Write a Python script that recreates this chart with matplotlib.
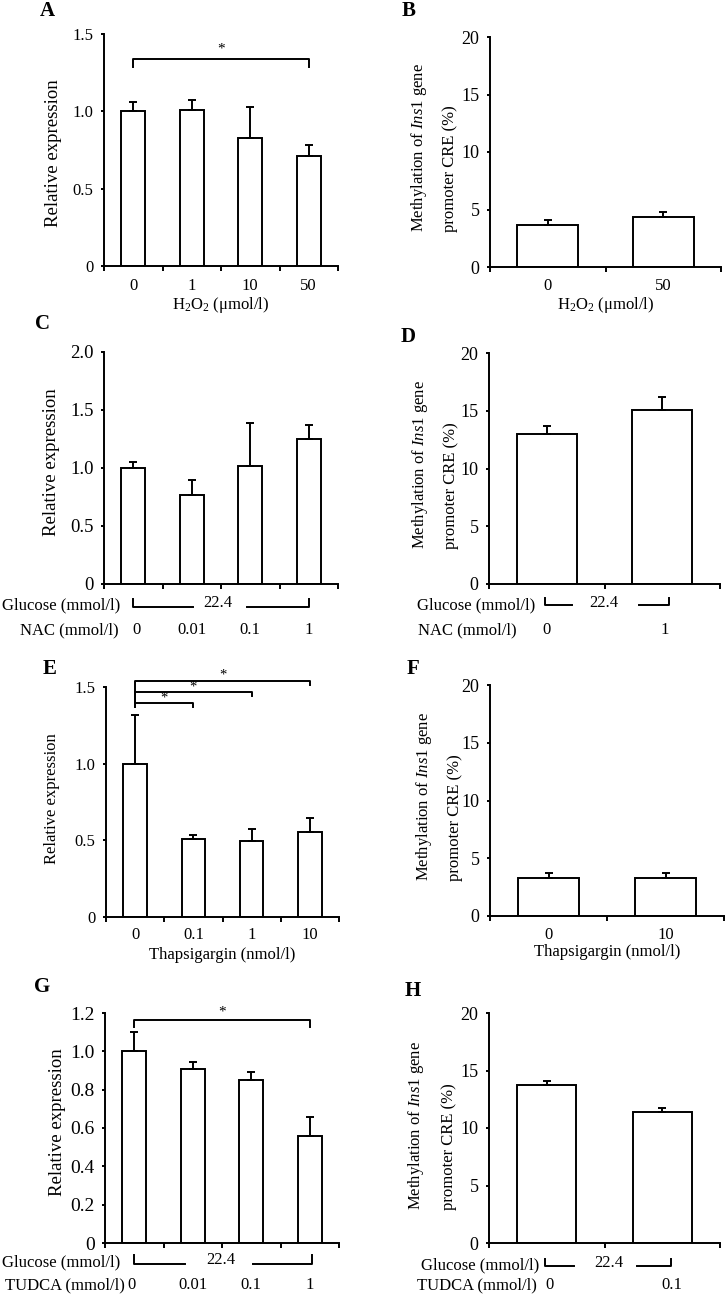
import matplotlib
matplotlib.use("Agg")
import matplotlib.pyplot as plt
from matplotlib import transforms

plt.rcParams['font.family'] = ['Liberation Serif', 'DejaVu Serif']
plt.rcParams['mathtext.fontset'] = 'custom'
plt.rcParams['mathtext.rm'] = 'Liberation Serif'
plt.rcParams['mathtext.it'] = 'Liberation Serif:italic'
plt.rcParams['mathtext.bf'] = 'Liberation Serif:bold'

W, H = 725, 1294

# ---------------- data ----------------
A_cats = ['0', '1', '10', '50']
A_vals = [1.0, 1.01, 0.83, 0.71]
A_err = [0.06, 0.065, 0.20, 0.07]

B_cats = ['0', '50']
B_vals = [3.65, 4.35]
B_err = [0.45, 0.43]

C_nac = ['0', '0.01', '0.1', '1']
C_vals = [1.0, 0.77, 1.02, 1.25]
C_err = [0.055, 0.13, 0.37, 0.125]

D_nac = ['0', '1']
D_vals = [13.0, 15.05]
D_err = [0.7, 1.15]

E_cats = ['0', '0.1', '1', '10']
E_vals = [1.0, 0.51, 0.495, 0.555]
E_err = [0.32, 0.027, 0.078, 0.09]

F_cats = ['0', '10']
F_vals = [3.3, 3.3]
F_err = [0.42, 0.42]

G_tudca = ['0', '0.01', '0.1', '1']
G_vals = [1.0, 0.91, 0.85, 0.56]
G_err = [0.10, 0.032, 0.04, 0.10]

H_tudca = ['0', '0.1']
H_vals = [13.7, 11.35]
H_err = [0.4, 0.42]

glucose_value = '22.4'

fig = plt.figure(figsize=(W / 100, H / 100), dpi=100)

LW = 1.4


def make_ax(L, R, T, B):
    ax = fig.add_axes([L / W, 1 - B / H, (R - L) / W, (B - T) / H])
    ax._px = (L, R, T, B)
    return ax


def fy(ax, ypx):
    L, R, T, B = ax._px
    return (B - ypx) / (B - T)


def fx(ax, xpx):
    L, R, T, B = ax._px
    return (xpx - L) / (R - L)


def style(ax, n, ymax, yticks, ylabels, ytick_fs):
    ax.set_xlim(-0.5, n - 0.5)
    ax.set_ylim(0, ymax)
    for s in ['top', 'right']:
        ax.spines[s].set_visible(False)
    for s in ['left', 'bottom']:
        ax.spines[s].set_linewidth(LW)
    ax.set_xticks([i - 0.5 for i in range(n + 1)])
    ax.set_xticklabels([])
    ax.tick_params(axis='x', direction='out', length=3.5, width=LW)
    ax.set_yticks(yticks)
    ax.set_yticklabels(ylabels, fontsize=ytick_fs)
    ax.tick_params(axis='y', direction='out', length=2.5, width=LW, pad=5)
    ax.patch.set_alpha(0)


def bars(ax, vals, errs, width):
    x = list(range(len(vals)))
    ax.bar(x, vals, width=width, color='white', edgecolor='black', linewidth=LW, zorder=2)
    ax.errorbar(x, vals, yerr=[[0] * len(vals), errs], fmt='none', ecolor='black',
                elinewidth=LW, capsize=3, capthick=LW, zorder=3)


def xcat_labels(ax, labels, ypx, fs=12, xs=None):
    tr = transforms.blended_transform_factory(ax.transData, ax.transAxes)
    if xs is None:
        xs = list(range(len(labels)))
    for x, lab in zip(xs, labels):
        ax.text(x, fy(ax, ypx), lab, transform=tr, ha='center', va='center', fontsize=fs, clip_on=False)


def xlabel(ax, text, ypx, fs=12):
    ax.text(0.5, fy(ax, ypx), text, transform=ax.transAxes, ha='center', va='center', fontsize=fs, clip_on=False)


def left_ylabel(ax, xpx, ypx, fs):
    ax.text(fx(ax, xpx), fy(ax, ypx), 'Relative expression', transform=ax.transAxes,
            rotation=90, ha='center', va='center', fontsize=fs, clip_on=False)


def right_ylabel(ax, x1, x2, ystart):
    ax.text(fx(ax, x1), fy(ax, ystart), r'Methylation of $\mathit{Ins1}$ gene', transform=ax.transAxes,
            rotation=90, rotation_mode='anchor', ha='left', va='center', fontsize=12, clip_on=False)
    ax.text(fx(ax, x2), fy(ax, ystart), 'promoter CRE (%)', transform=ax.transAxes,
            rotation=90, rotation_mode='anchor', ha='left', va='center', fontsize=12, clip_on=False)


def sig(ax, x0, x1, y, drop, star_y, left_drop=None, fs=11):
    ld = drop if left_drop is None else left_drop
    ax.plot([x0, x0, x1, x1], [y - ld, y, y, y - drop], color='black', lw=LW, clip_on=False, zorder=4)
    ax.text((x0 + x1) / 2, star_y, '*', ha='center', va='center', fontsize=fs, clip_on=False)


def glucose_row(ax, label, label_right_px, ypx, seg_l, seg_r, text_x, line_px, top_px, fs=12):
    tr = transforms.blended_transform_factory(ax.transData, ax.transAxes)
    ax.text(fx(ax, label_right_px), fy(ax, ypx), label, transform=ax.transAxes,
            ha='right', va='center', fontsize=fs, clip_on=False)
    yl, yt = fy(ax, line_px), fy(ax, top_px)
    ax.plot([seg_l[0], seg_l[0], seg_l[1]], [yt, yl, yl], transform=tr, color='black', lw=LW, clip_on=False)
    ax.plot([seg_r[0], seg_r[1], seg_r[1]], [yl, yl, yt], transform=tr, color='black', lw=LW, clip_on=False)
    ax.text(text_x, fy(ax, ypx - 2), glucose_value, transform=tr, ha='center', va='center', fontsize=fs, clip_on=False)


def row_label(ax, label, label_right_px, ypx, fs=12):
    ax.text(fx(ax, label_right_px), fy(ax, ypx), label, transform=ax.transAxes,
            ha='right', va='center', fontsize=fs, clip_on=False)


def panel_letter(letter, xpx, ypx):
    fig.text(xpx / W, 1 - ypx / H, letter, fontsize=15, fontweight='bold', ha='center', va='center')


h2o2 = r'H$_2$O$_2$ (μmol/l)'

# ---------------- A ----------------
axA = make_ax(104, 338, 34, 266)
style(axA, 4, 1.5, [0, 0.5, 1.0, 1.5], ['0', '0.5', '1.0', '1.5'], 12)
bars(axA, A_vals, A_err, 0.41)
sig(axA, 0, 3, 1.338, 0.05, 1.40)
xcat_labels(axA, A_cats, 286)
xlabel(axA, h2o2, 305)
left_ylabel(axA, 53, 153, 13.5)
panel_letter('A', 47, 11)

# ---------------- B ----------------
axB = make_ax(490, 721, 37, 267)
style(axB, 2, 20, [0, 5, 10, 15, 20], ['0', '5', '10', '15', '20'], 13)
bars(axB, B_vals, B_err, 0.53)
xcat_labels(axB, B_cats, 286)
xlabel(axB, h2o2, 305)
right_ylabel(axB, 419, 450, 232)
panel_letter('B', 409, 11)

# ---------------- C ----------------
axC = make_ax(104, 338, 352, 584)
style(axC, 4, 2.0, [0, 0.5, 1.0, 1.5, 2.0], ['0', '0.5', '1.0', '1.5', '2.0'], 13.5)
bars(axC, C_vals, C_err, 0.41)
glucose_row(axC, 'Glucose (mmol/l)', 120, 605, (0.0, 1.02), (1.94, 3.0), 1.45, 607, 599)
row_label(axC, 'NAC (mmol/l)', 119, 630)
xcat_labels(axC, C_nac, 630, xs=[0.05, 1, 2, 3])
left_ylabel(axC, 51, 462, 13.5)
panel_letter('C', 42, 324)

# ---------------- D ----------------
axD = make_ax(489, 720, 353, 584)
style(axD, 2, 20, [0, 5, 10, 15, 20], ['0', '5', '10', '15', '20'], 13)
bars(axD, D_vals, D_err, 0.52)
glucose_row(axD, 'Glucose (mmol/l)', 535, 605, (-0.015, 0.22), (0.80, 1.06), 0.49, 605, 598)
row_label(axD, 'NAC (mmol/l)', 517, 630)
xcat_labels(axD, D_nac, 630, xs=[0.0, 1.02])
right_ylabel(axD, 420, 451, 549)
panel_letter('D', 408, 337)

# ---------------- E ----------------
axE = make_ax(106, 339, 687, 917)
style(axE, 4, 1.5, [0, 0.5, 1.0, 1.5], ['0', '0.5', '1.0', '1.5'], 12)
bars(axE, E_vals, E_err, 0.40)
sig(axE, 0, 1, 1.396, 0.026, 1.43, fs=10.5)
sig(axE, 0, 2, 1.467, 0.026, 1.50, left_drop=0.097, fs=10.5)
sig(axE, 0, 3, 1.539, 0.026, 1.575, left_drop=0.169, fs=10.5)
xcat_labels(axE, E_cats, 935)
xlabel(axE, 'Thapsigargin (nmol/l)', 955)
left_ylabel(axE, 52, 799, 12)
panel_letter('E', 50, 669)

# ---------------- F ----------------
axF = make_ax(490, 724, 685, 916)
style(axF, 2, 20, [0, 5, 10, 15, 20], ['0', '5', '10', '15', '20'], 13)
bars(axF, F_vals, F_err, 0.52)
xcat_labels(axF, F_cats, 935)
xlabel(axF, 'Thapsigargin (nmol/l)', 952)
right_ylabel(axF, 424, 455, 881)
panel_letter('F', 413, 669)

# ---------------- G ----------------
axG = make_ax(105, 339, 1013, 1243)
style(axG, 4, 1.2, [0, 0.2, 0.4, 0.6, 0.8, 1.0, 1.2],
      ['0', '0.2', '0.4', '0.6', '0.8', '1.0', '1.2'], 14)
bars(axG, G_vals, G_err, 0.41)
sig(axG, 0, 3, 1.163, 0.035, 1.205)
glucose_row(axG, 'Glucose (mmol/l)', 120, 1262, (0.0, 0.87), (2.03, 3.03), 1.48, 1264, 1255)
row_label(axG, 'TUDCA (mmol/l)', 125, 1285)
xcat_labels(axG, G_tudca, 1285, xs=[-0.05, 1, 2, 3])
left_ylabel(axG, 57, 1122, 13.5)
panel_letter('G', 42, 987)

# ---------------- H ----------------
axH = make_ax(489, 720, 1013, 1243)
style(axH, 2, 20, [0, 5, 10, 15, 20], ['0', '5', '10', '15', '20'], 13)
bars(axH, H_vals, H_err, 0.51)
glucose_row(axH, 'Glucose (mmol/l)', 539, 1265, (-0.015, 0.236), (0.78, 1.08), 0.54, 1266, 1259)
row_label(axH, 'TUDCA (mmol/l)', 537, 1285)
xcat_labels(axH, H_tudca, 1285, xs=[0.02, 1.08])
right_ylabel(axH, 416, 449, 1210)
panel_letter('H', 413, 991)

fig.savefig('out.png', dpi=100)
